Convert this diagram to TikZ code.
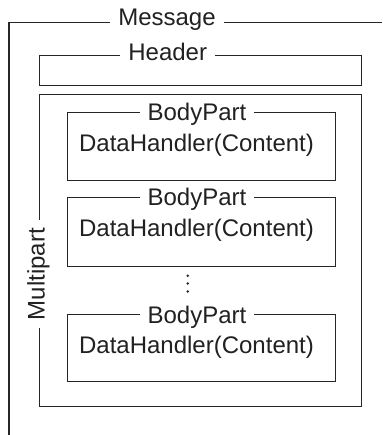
\documentclass[tikz,border=0pt]{standalone}
\usepackage{fontspec}
\setmainfont{Liberation Sans}
\begin{document}
\begin{tikzpicture}[x=1pt,y=-1pt,
  frame/.style={draw=black!85, line width=1.3pt},
  boxshape/.style={draw=black!85, line width=1.3pt, rectangle, inner sep=0pt, anchor=north west},
  lbl/.style={fill=white, inner xsep=8pt, inner ysep=1pt, font=\fontsize{24}{28}\selectfont, text=black!87},
  content/.style={inner sep=0pt, font=\fontsize{24}{28}\selectfont, text=black!87},
  dot/.style={circle, fill=black!85, inner sep=0pt, minimum size=2.8pt}]
\useasboundingbox (0,0) rectangle (382,435);
% Message frame (open on right and bottom)
\coordinate (mTL) at (9,22.5);
\coordinate (mTR) at (382,22.5);
\coordinate (mBL) at (9,435);
\draw[frame] (mBL) -- (mTL) -- (mTR);
\node[lbl, anchor=base] (message) at (167,26) {Message};
% Header
\node[boxshape, minimum width=322pt, minimum height=30pt] (header) at (39,55) {};
\node[lbl, anchor=base] (headerlbl) at (167.7,61) {Header};
% Multipart
\node[boxshape, minimum width=322pt, minimum height=312pt] (multipart) at (39,94) {};
\node[lbl, rotate=90, inner xsep=8pt, inner ysep=0pt] (multipartlbl) at (38.5,274) {Multipart};
% Body parts
\node[boxshape, minimum width=268pt, minimum height=68pt] (bp1) at (67,112) {};
\node[lbl, anchor=base] (bp1lbl) at (197,121) {BodyPart};
\node[content, anchor=base] (bp1c) at (196.5,151.5) {DataHandler(Content)};
\node[boxshape, minimum width=268pt, minimum height=69pt] (bp2) at (67,197) {};
\node[lbl, anchor=base] (bp2lbl) at (197,206) {BodyPart};
\node[content, anchor=base] (bp2c) at (196.5,236.5) {DataHandler(Content)};
\node[dot] (d1) at (187.7,275.7) {};
\node[dot] (d2) at (187.7,283.5) {};
\node[dot] (d3) at (187.7,291.5) {};
\node[boxshape, minimum width=268pt, minimum height=67pt] (bp3) at (67,314) {};
\node[lbl, anchor=base] (bp3lbl) at (197,323) {BodyPart};
\node[content, anchor=base] (bp3c) at (196.5,353.5) {DataHandler(Content)};
\end{tikzpicture}
\end{document}
